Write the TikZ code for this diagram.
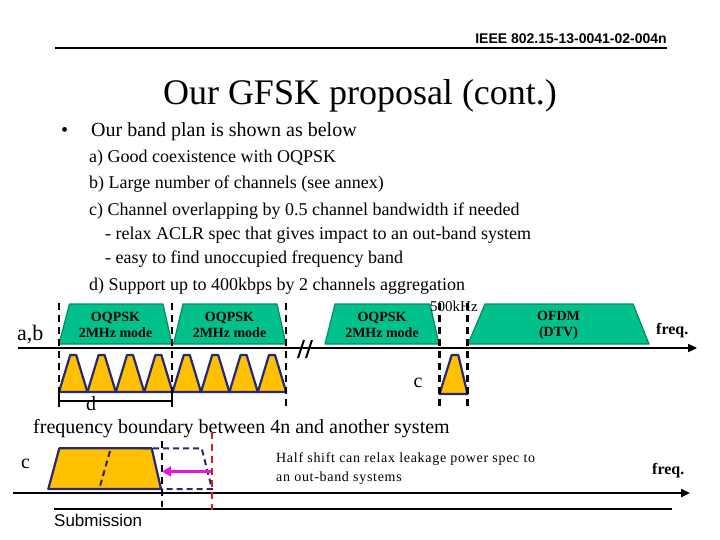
\documentclass[tikz,border=0pt]{standalone}
\usepackage{fontspec}
\setmainfont{Liberation Serif}
\newfontfamily\arial{Liberation Sans}
\newfontfamily\spaced{Liberation Serif}[LetterSpace=5]
\usetikzlibrary{arrows.meta}

\definecolor{bandgreen}{RGB}{0,192,140}
\definecolor{banddark}{RGB}{0,140,100}
\definecolor{chyellow}{RGB}{255,192,0}
\definecolor{chnavy}{RGB}{40,40,120}
\definecolor{shiftred}{RGB}{210,30,30}
\definecolor{shiftpink}{RGB}{230,20,230}

\newcommand\pts[1]{\fontsize{#1}{#1}\selectfont}

\begin{document}
\begin{tikzpicture}[x=1pt, y=-1pt,
	txt/.style={inner sep=0pt, anchor=base west},
	band/.style={draw=banddark, fill=bandgreen, line width=1.2pt, line join=round},
	bandtext/.style={align=center, inner sep=0pt,
					 font=\bfseries\fontsize{14}{16}\selectfont},
	chan/.style={draw=chnavy, fill=chyellow, line width=2.2pt, line join=round},
	bound/.style={line width=2.2pt, dash pattern=on 7pt off 5pt},
	axis/.style={line width=2.8pt, -{Triangle[length=9pt, width=8pt]}}
]
	\useasboundingbox (0,0) rectangle (720,540);

	% header and footer
	\node[txt, anchor=base east, font=\arial\bfseries\pts{14}] (docnum) at (667,44) {IEEE 802.15-13-0041-02-004n};
	\coordinate (headL) at (55,48);
	\coordinate (headR) at (667,48);
	\draw[line width=2pt] (headL) -- (headR);
	\coordinate (footL) at (54,509);
	\coordinate (footR) at (672,509);
	\draw[line width=2pt] (footL) -- (footR);
	\node[txt, font=\arial\pts{17}] (submission) at (54,526) {Submission};

	% title and bullets
	\node[txt, anchor=base, font=\pts{36}] (title) at (360,105) {Our GFSK proposal (cont.)};
	\node[txt, font=\pts{20}] (bullet) at (61,137) {•};
	\node[txt, font=\pts{20}] (intro) at (91,137) {Our band plan is shown as below};
	\node[txt, font=\pts{18}] (itemA) at (89,163) {a) Good coexistence with OQPSK};
	\node[txt, font=\pts{18}] (itemB) at (89,189) {b) Large number of channels (see annex)};
	\node[txt, font=\pts{18}] (itemC) at (89,215) {c) Channel overlapping by 0.5 channel bandwidth if needed};
	\node[txt, font=\pts{18}] (itemC1) at (105,240) {- relax ACLR spec that gives impact to an out-band system};
	\node[txt, font=\pts{18}] (itemC2) at (105,263) {- easy to find unoccupied frequency band};
	\node[txt, font=\pts{18}] (itemD) at (89,290) {d) Support up to 400kbps by 2 channels aggregation};

	% band plan a,b
	\draw[band] (59,344) -- (69.5,304) -- (163,304) -- (172,344) -- cycle;
	\draw[band] (173.5,344) -- (183,304) -- (277,304) -- (286,344) -- cycle;
	\draw[band] (325,344) -- (335,304) -- (430,304) -- (439,344) -- cycle;
	\draw[band] (468,344) -- (485,304) -- (633,304) -- (649,344) -- cycle;
	\node[bandtext] (oqpskA) at (115.5,325) {OQPSK\\2MHz mode};
	\node[bandtext] (oqpskB) at (229.5,325) {OQPSK\\2MHz mode};
	\node[bandtext] (oqpskC) at (382,325) {OQPSK\\2MHz mode};
	\node[bandtext] (ofdm) at (558.5,325) {OFDM\\(DTV)};

	\foreach \i in {0,...,7}{
		\pgfmathsetmacro\xa{59+28.4*\i}
		\draw[chan] (\xa,392) -- ++(11.2,-37) -- ++(6,0) -- ++(11.2,37) -- cycle;
	}
	\draw[chan] (439.5,394) -- (451.7,355) -- (458.3,355) -- (467.5,394) -- cycle;

	\foreach \xb in {59,172,286,439.5,467.5}{
		\draw[bound] (\xb,303) -- (\xb,407);
	}

	\coordinate (abL) at (18,348);
	\coordinate (abR) at (697,348);
	\draw[axis] (abL) -- (abR);
	\draw[line width=2pt] (298,358) -- (304,340);
	\draw[line width=2pt] (306,358) -- (312,340);

	\node[txt, font=\pts{22}] (ab) at (17,340) {a,b};
	\node[txt, font=\bfseries\pts{16}] (freqA) at (656,334) {freq.};
	\node[txt, font=\pts{15}] (khz) at (430,311) {500kHz};
	\node[txt, anchor=base, font=\pts{20}] (cmid) at (418,387) {c};

	% aggregation bracket
	\draw[line width=1.6pt] (59,394) -- (59,407);
	\draw[line width=1.6pt] (59,401) -- (172,401);
	\draw[line width=1.6pt] (172,394) -- (172,407);
	\node[txt, anchor=base, font=\pts{20}] (dlab) at (91,410) {d};

	\node[txt, font=\pts{20}] (boundary) at (33,433) {frequency boundary between 4n and another system};

	% half shift c
	\coordinate (cL) at (13,493);
	\coordinate (cR) at (690,493);
	\draw[axis] (cL) -- (cR);
	\draw[chan] (48.3,489) -- (59.3,448.3) -- (151.7,448.3) -- (161,489) -- cycle;
	\draw[chnavy, line width=2pt, dash pattern=on 6pt off 4pt] (110,451) -- (99.5,488);
	\draw[chnavy, line width=2pt, dash pattern=on 6pt off 4pt] (143,448.3) -- (201.7,448.3) -- (212,489) -- (161,489);
	\draw[bound] (161.7,441) -- (161.7,507);
	\draw[bound, draw=shiftred] (212.3,432) -- (212.3,510);
	\coordinate (redmid) at (211,471.5);
	\coordinate (blackmid) at (162,471.5);
	\draw[shiftpink, line width=2.5pt, -{Triangle[length=9pt, width=10pt]}] (redmid) -- (blackmid);

	\node[txt, font=\pts{20}] (cbot) at (21,468) {c};
	\node[txt, font=\spaced\pts{14}] (shiftA) at (276,462) {Half shift can relax leakage power spec to};
	\node[txt, font=\spaced\pts{14}] (shiftB) at (276,481) {an out-band systems};
	\node[txt, font=\bfseries\pts{16}] (freqB) at (652,474) {freq.};
\end{tikzpicture}
\end{document}
